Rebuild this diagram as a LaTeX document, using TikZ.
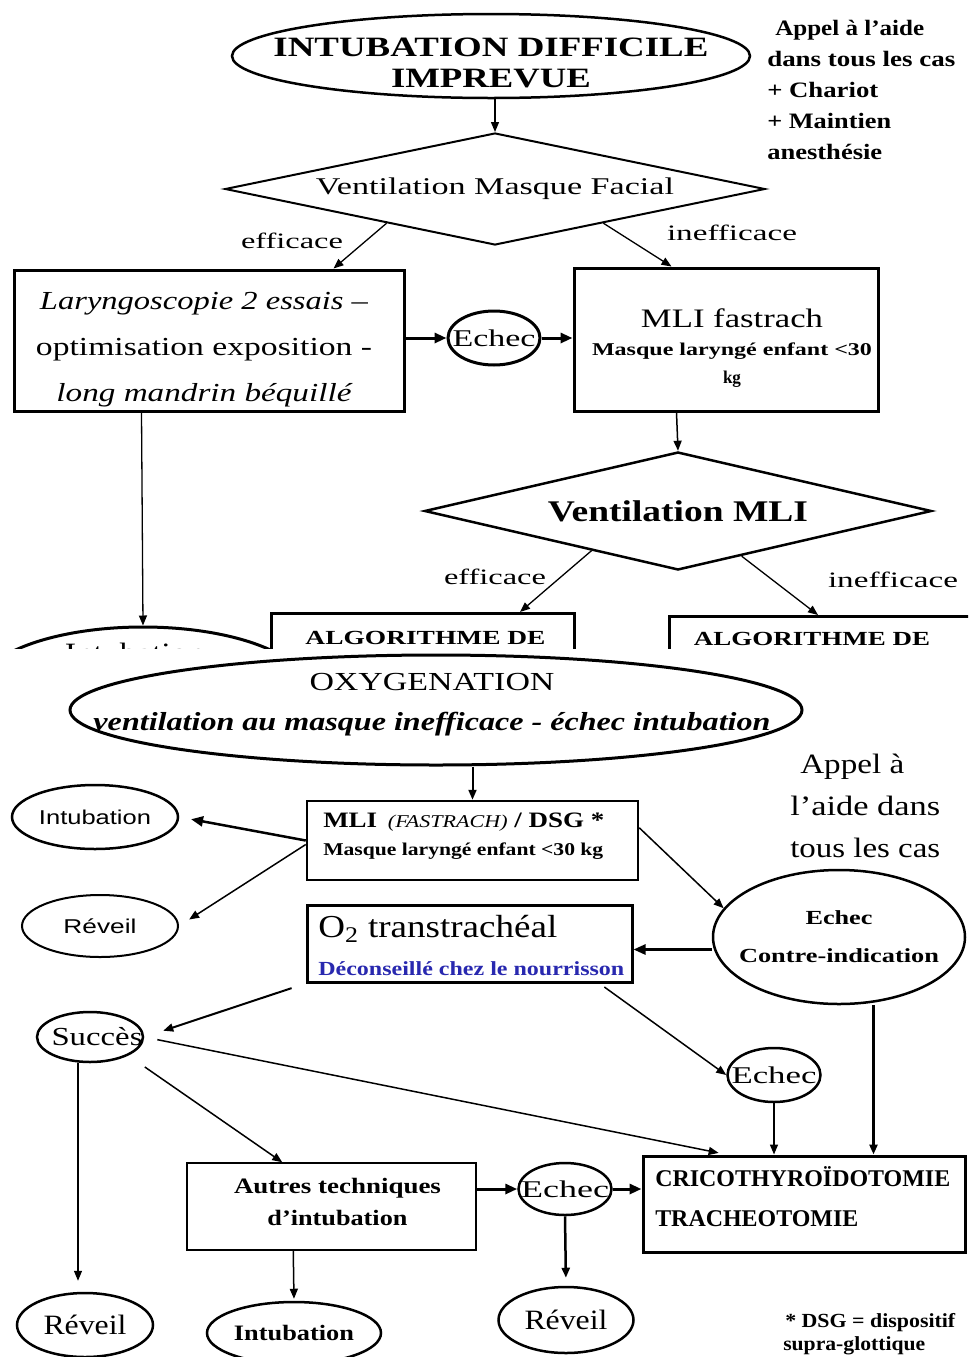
\documentclass[tikz,border=0pt]{standalone}
\usepackage{fontspec}
\setmainfont{Liberation Serif}
\newfontfamily\sansf{Liberation Sans}
\usepackage{graphicx}
\usetikzlibrary{shapes.geometric,arrows.meta,calc}
\definecolor{linkblue}{RGB}{40,40,175}
\newlength\pxu
\setlength\pxu{0.75pt}
\newcommand\fitw[2]{\resizebox{#1\pxu}{\height}{#2}}
\newcommand\FS[2]{\fontsize{#1}{#2}\selectfont}
\newcommand\zw[1]{\makebox[0pt]{#1}}
\begin{document}
\begin{tikzpicture}[x=0.75pt,y=-0.75pt,
  lw/.style={line width=#1*0.75pt},
  wh/.style 2 args={minimum width=#1*0.75pt,minimum height=#2*0.75pt},
  ell/.style={draw,ellipse,inner sep=0pt,align=center},
  box/.style={draw,rectangle,inner sep=0pt,align=center},
  dia/.style={draw,diamond,inner sep=0pt,shape aspect=4.6,align=center},
  txt/.style={inner sep=0pt,align=center},
  arr/.style={-{Triangle[length=7.5pt,width=6pt]},lw=1.3},
  tarr/.style={-{Triangle[length=9pt,width=7.5pt]},lw=3},
]
\fill[white] (0,0) rectangle (968,1357);
\useasboundingbox (0,0) rectangle (968,1357);

% ---------------- top part (cut off) ----------------
\begin{scope}
\clip (0,0) rectangle (968,648);
\node[ell,wh={518}{84},lw=2.5] (title) at (491,56) {};
\node[txt,font=\FS{21}{23.5}\bfseries] (titleT) at (491,63) {\fitw{435}{INTUBATION DIFFICILE}\\\fitw{200}{IMPREVUE}};
\node[txt,align=left,anchor=north west,font=\FS{16.5}{23.25}\bfseries] (appel1) at (767,20) {\hspace*{8\pxu}\fitw{149}{Appel à l’aide}\\\fitw{188}{dans tous les cas}\\\fitw{111}{+ Chariot}\\\fitw{124}{+ Maintien}\\\fitw{115}{anesthésie}};
\node[dia,wh={540}{112},lw=2,font=\FS{18}{20}] (dia1) at (495,189) {\zw{\fitw{358}{Ventilation Masque Facial}}};
\node[txt,font=\FS{16.5}{18}] (eff1) at (292,241) {\fitw{102}{efficace}};
\node[txt,font=\FS{16.5}{18}] (ineff1) at (732,233) {\fitw{130}{inefficace}};
\node[box,wh={390}{141},lw=3] (lary) at (209,340.5) {};
\node[txt,font=\FS{19.5}{34.5}] (laryT) at (204,350) {\fitw{328}{\itshape Laryngoscopie 2 essais –}\\\fitw{336}{optimisation exposition -}\\\fitw{295}{\itshape long mandrin béquillé}};
\node[ell,wh={92}{54},lw=3,font=\FS{18}{20}] (echec1) at (494,338) {\zw{\fitw{83}{Echec}}};
\node[box,wh={304}{143},lw=3] (mli1) at (726,339.5) {};
\node[txt,font=\FS{13.5}{21}\bfseries] (mli1T) at (732,348.5) {\fitw{182}{\mdseries\fontsize{20}{21}\selectfont MLI fastrach}\\\fitw{280}{Masque laryngé enfant <30}\\\fitw{18}{kg}};
\node[dia,wh={507}{118},lw=2.5,font=\FS{22.5}{24}\bfseries] (dia2) at (678,511) {\zw{\fitw{260}{Ventilation MLI}}};
\node[txt,font=\FS{16.5}{18}] (eff2) at (495,577) {\fitw{102}{efficace}};
\node[txt,font=\FS{16.5}{18}] (ineff2) at (893,580) {\fitw{130}{inefficace}};
\node[box,wh={303}{96},lw=3,anchor=north west] (algo1) at (270,612) {};
\node[txt,font=\FS{15}{18}\bfseries] (algo1T) at (425.5,638) {\fitw{240}{ALGORITHME DE}};
\node[box,wh={340}{96},lw=3,anchor=north west] (algo2) at (668,615) {};
\node[txt,font=\FS{15}{18}\bfseries] (algo2T) at (812,639) {\fitw{236}{ALGORITHME DE}};
\node[ell,wh={330}{126},lw=3] (intub1) at (143,690) {};
\node[txt,font=\FS{21}{24}] (intub1T) at (135,653) {\fitw{140}{Intubation}};

\draw[arr] (dia1.north |- title.south) -- (dia1.north);
\draw[arr] ($(dia1.west)!0.6!(dia1.south)$) -- ($(lary.north west)+(321,0)$);
\draw[arr] ($(dia1.south)!0.4!(dia1.east)$) -- ($(mli1.north west)+(99,0)$);
\draw[tarr] (echec1.west -| lary.east) -- (echec1.west);
\draw[tarr] (echec1.east) -- (echec1.east -| mli1.west);
\draw[arr,lw=1.5] ($(mli1.south west)+(104,0)$) -- (dia2.north);
\draw[arr] ($(dia2.west)!0.66!(dia2.south)$) -- ($(algo1.north west)+(250,0)$);
\draw[arr] ($(dia2.south)!0.25!(dia2.east)$) -- ($(algo2.north west)+(150,0)$);
\draw[arr] ($(lary.south west)+(129,0)$) -- (intub1.north);
\end{scope}

% ---------------- bottom part ----------------
\node[ell,wh={732}{110},lw=3] (oxy) at (436,710) {};
\node[txt,font=\FS{19.5}{30}] (oxyT) at (432,704.5) {\fitw{245}{OXYGENATION}\\\fitw{677}{\bfseries\itshape ventilation au masque inefficace - échec intubation}};
\node[txt,align=left,anchor=north west,font=\FS{21}{31.5}] (appel2) at (790,754) {\hspace*{10\pxu}\fitw{104}{Appel à}\\\fitw{150}{l’aide dans}\\\fitw{150}{tous les cas}};
\node[box,wh={331}{79},lw=2.5] (mli2) at (472.5,840.5) {};
\node[txt,align=left,anchor=north west,font=\FS{16.5}{21}\bfseries] (mli2T) at (323,813) {\fitw{281}{MLI\hspace{0.4em}{\mdseries\itshape\fontsize{13.5}{14}\selectfont (FASTRACH)} / DSG *}\\\fitw{280}{\fontsize{13.5}{21}\selectfont Masque laryngé enfant <30 kg}};
\node[ell,wh={166}{64},lw=2.5,font=\sansf\FS{15}{18}] (intub2) at (95,817) {\zw{\fitw{112}{Intubation}}};
\node[ell,wh={156}{62},lw=2,font=\sansf\FS{15}{18}] (reveil2) at (100,926) {\zw{\fitw{73}{Réveil}}};
\node[ell,wh={252}{134},lw=2.5,font=\FS{15}{28.5}\bfseries] (eci) at (839,937) {\zw{\fitw{67}{Echec}}\\\zw{\fitw{200}{Contre-indication}}};
\node[box,wh={325}{77},lw=3] (o2) at (469.5,943.5) {};
\node[txt,align=left,anchor=north west,font=\FS{24}{28.5}] (o2T) at (318,915) {\fitw{239}{O\textsubscript{2} transtrachéal}\\\fitw{306}{\color{linkblue}\bfseries\fontsize{15}{18}\selectfont Déconseillé chez le nourrisson}};
\node[ell,wh={106}{50},lw=2.5,font=\FS{19.5}{22}] (succ) at (90,1037) {\zw{\hspace*{14\pxu}\fitw{91}{Succès}}};
\node[ell,wh={93}{54},lw=2.5,font=\FS{18}{20}] (echec3) at (774,1075) {\zw{\fitw{85}{Echec}}};
\node[box,wh={322}{96},lw=3] (crico) at (804,1204) {};
\node[txt,align=left,anchor=north west,font=\FS{18}{30}\bfseries] (cricoT) at (655,1166) {\fitw{295}{CRICOTHYROÏDOTOMIE}\\\fitw{203}{TRACHEOTOMIE}};
\node[box,wh={289}{87},lw=1.5] (autres) at (331.5,1206.5) {};
\node[txt,font=\FS{16.5}{24}\bfseries] (autresT) at (337.5,1201.5) {\fitw{207}{Autres techniques}\\\fitw{140}{d’intubation}};
\node[ell,wh={93}{52},lw=2.5,font=\FS{18}{20}] (echec4) at (565,1189) {\zw{\fitw{88}{Echec}}};
\node[ell,wh={136}{64},lw=2.5,font=\FS{21}{24}] (reveil3) at (85,1325) {\zw{\fitw{83}{Réveil}}};
\node[ell,wh={174}{62},lw=2.5,font=\FS{16.5}{20}\bfseries] (intub4) at (294,1333) {\zw{\fitw{120}{Intubation}}};
\node[ell,wh={135}{66},lw=2.5,font=\FS{21}{24}] (reveil4) at (566,1320) {\zw{\fitw{83}{Réveil}}};
\node[txt,align=left,anchor=north west,font=\FS{15}{17.25}\bfseries] (foot) at (783,1313) {\hspace*{2\pxu}\fitw{170}{* DSG = dispositif}\\\fitw{142}{supra-glottique}};

\draw[arr,lw=2] (mli2.north |- oxy.south) -- (mli2.north);
\draw[tarr,lw=2.5,shorten >=9pt] (mli2.west) -- (intub2.east);
\draw[arr,lw=1.5,shorten >=9pt] ($(mli2.west)+(0,4)$) -- (reveil2.east);
\draw[arr,lw=1.5] ($(mli2.north east)+(0,28)$) -- (eci.166);
\coordinate (o2r) at ($(o2.east)+(0,6)$);
\draw[tarr,lw=2.5] (o2r -| eci.west) -- (o2r);
\draw[arr,lw=2,shorten <=11pt,shorten >=15pt] (o2.south west) -- (succ.east);
\draw[arr,lw=1.5,shorten <=4.5pt] ($(o2.south)+(130,0)$) -- (echec3.west);
\draw[arr,lw=1.5,shorten <=10pt,shorten >=6pt] (succ.east) -- ($(crico.north west)+(85,0)$);
\draw[arr,lw=1.5,shorten <=15pt] (succ.south east) -- ($(autres.north west)+(96,0)$);
\draw[arr,lw=1.3] ($(succ.south)+(-12,0)$) -- ($(reveil3.north)+(-7,-11)$);
\draw[arr,lw=1.5] (echec3.south) -- (echec3.south |- crico.north);
\coordinate (cx) at ($(crico.north west)+(232,0)$);
\draw[arr,lw=2.5] (cx |- eci.south) -- (cx);
\draw[tarr] (echec4.west -| autres.east) -- (echec4.west);
\draw[tarr] (echec4.east) -- (echec4.east -| crico.west);
\draw[arr,lw=2.5,shorten >=6pt] (echec4.south) -- (reveil4.north);
\draw[arr,lw=1.5,shorten >=1.5pt] ($(autres.south west)+(107,0)$) -- (intub4.north);
\end{tikzpicture}
\end{document}
